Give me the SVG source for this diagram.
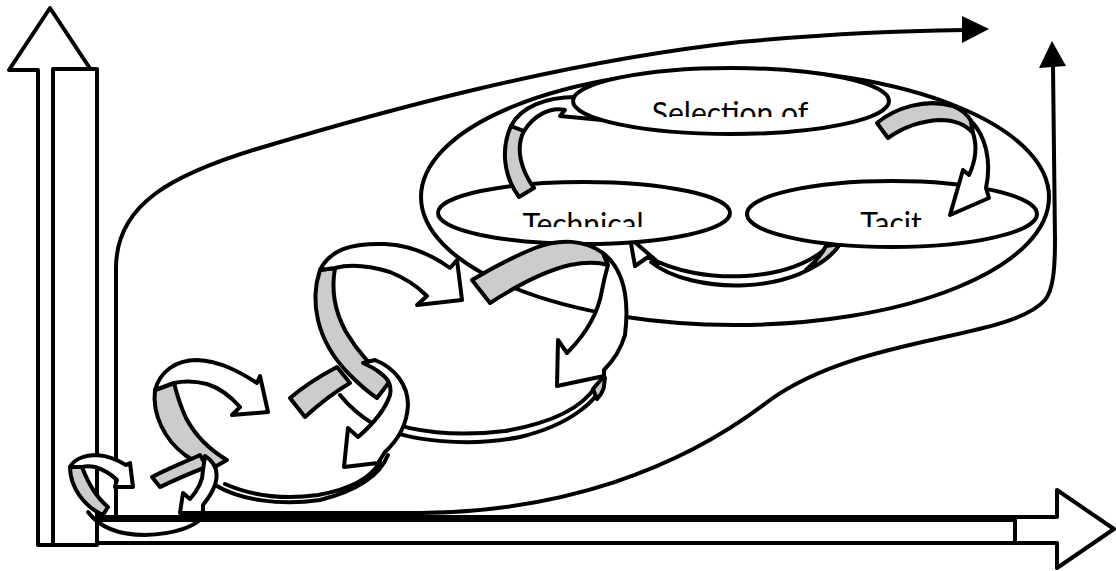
<svg xmlns="http://www.w3.org/2000/svg" width="1116" height="571" viewBox="0 0 1116 571">
  <style>
    .ln { fill: none; stroke: #000; stroke-width: 4; stroke-linejoin: round; stroke-linecap: round; }
    .wf { fill: #fff; stroke: #000; stroke-width: 4; stroke-linejoin: round; }
    .gf { fill: #cccccc; stroke: #000; stroke-width: 4; stroke-linejoin: round; }
    .bk { fill: #000; stroke: none; }
    .lbl { font-family: Lato, "Open Sans", "Liberation Sans", sans-serif; font-size: 30px; fill: #000; text-anchor: middle; }
  </style>
  <defs>
    <clipPath id="clipSel"><rect x="560" y="60" width="340" height="57"/></clipPath>
    <clipPath id="clipTech"><rect x="430" y="180" width="310" height="47"/></clipPath>
    <clipPath id="clipTacit"><rect x="740" y="180" width="310" height="47"/></clipPath>
  </defs>
  <rect width="1116" height="571" fill="#fff"/>

  <!-- axes -->
  <g id="axis-x">
    <path class="wf" d="M38,517 L1057,517 L1057,490 L1114,529 L1057,568 L1057,543 L38,543 Z"/>
    <rect class="wf" x="97" y="520" width="918" height="23"/>
  </g>
  <g id="axis-y">
    <path class="wf" d="M38,545 L38,70 L9,70 L50,8 L91,70 L62,70 L62,545 Z"/>
    <rect class="wf" x="53" y="69" width="44" height="476"/>
  </g>

  <!-- connectors: long sweeping trajectories -->
  <g id="connectors">
    <path class="ln" d="M116,515 L116,268 C116,205 170,175 260,148 C380,112 560,62 740,42 C840,33 900,31 965,30"/>
    <polygon class="bk" points="962,16 989,29 962,43"/>
    <path class="ln" d="M200,513 L420,513 C560,512 680,470 770,400 C860,335 1010,340 1045,300 C1053,290 1055,270 1055,240 L1053,66"/>
    <polygon class="bk" points="1039,68 1052,41 1066,66"/>
  </g>

  <!-- enclosing loop around the three stages -->
  <g id="cycle">
    <ellipse class="ln" cx="735" cy="197" rx="314" ry="128"/>
  </g>

  <!-- Tacit -> Technical return arrow (sits behind the two lower ellipses) -->
  <g id="arrow-tacit-technical">
    <path class="wf" d="M630,238 L659,263 L651,262 C690,294 800,298 840,244 L830,244 C795,283 700,286 648,257 L635,266 Z"/>
    <path class="gf" stroke-width="2" d="M826,246 C821,256 814,263 806,270 C822,264 832,256 840,244 Z"/>
  </g>

  <g id="node-technical">
    <ellipse class="wf" cx="584" cy="213" rx="146" ry="31"/>
    <text class="lbl" x="583" y="235" clip-path="url(#clipTech)">Technical</text>
  </g>
  <g id="node-tacit">
    <ellipse class="wf" cx="892" cy="214" rx="145" ry="33"/>
    <text class="lbl" x="891" y="234" clip-path="url(#clipTacit)">Tacit</text>
  </g>

  <!-- Technical -> Selection arrow (head tucked under the Selection ellipse) -->
  <g id="arrow-technical-selection">
    <path class="gf" d="M519,197 L534,188 C521,170 515,148 524,131 L511,126 C501,148 503,175 519,197 Z"/>
    <path class="wf" d="M511,126 C520,108 545,96 580,97 L602,94 L602,120 L560,116 L565,110 C550,107 534,115 524,131 Z"/>
  </g>

  <g id="node-selection">
    <ellipse class="wf" cx="731" cy="101" rx="158" ry="33"/>
    <text class="lbl" x="730" y="124" clip-path="url(#clipSel)">Selection of</text>
  </g>

  <!-- Selection -> Tacit arrow -->
  <g id="arrow-selection-tacit">
    <path class="gf" d="M877,123 C895,108 925,98 953,106 C962,110 968,115 971,121 L973,133 C965,124 955,120 940,120 C920,121 902,128 888,138 Z"/>
    <path class="wf" d="M971,121 C985,135 992,160 986,188 L989,198 L950,215 L963,170 L969,175 C976,160 977,145 973,133 Z"/>
  </g>

  <!-- large spiral turn -->
  <g id="spiral-large">
    <path class="ln" d="M605,378 C600,400 570,425 520,437 C470,447 410,442 375,425 C360,416 348,405 340,395"/>
    <path class="ln" d="M596,386 C582,408 552,423 505,431 C455,437 412,432 385,420"/>
    <path class="gf" stroke-width="2" d="M604,376 C606,386 603,393 597,399 L593,389 Z"/>
    <path class="gf" d="M320,270 C310,300 315,340 350,375 C360,385 368,392 377,398 L390,381 C372,368 358,352 346,332 C335,312 331,290 335,268 Z"/>
    <path class="wf" d="M320,270 C330,250 350,243 385,244 C410,245 432,255 450,268 L457,260 L462,300 L417,305 L427,296 C418,287 405,278 390,272 C370,266 350,264 335,268 Z"/>
    <path class="gf" d="M472,280 L490,303 C510,290 540,272 570,265 C585,262 598,262 608,265 L603,253 C585,240 560,238 535,248 C515,256 492,268 472,280 Z"/>
    <path class="wf" d="M603,253 C622,268 630,295 625,335 C620,352 612,362 604,370 L604,376 L557,386 L558,340 L567,353 C585,335 598,315 602,290 C604,280 606,272 608,265 Z"/>
  </g>

  <!-- medium spiral turn -->
  <g id="spiral-medium">
    <path class="ln" d="M388,455 C380,475 360,490 320,500 C280,506 240,500 215,485"/>
    <path class="ln" d="M380,462 C370,478 352,489 318,495 C282,500 250,495 225,484"/>
    <path class="gf" d="M155,390 C152,415 165,440 185,455 C195,462 203,466 211,469 L227,460 C210,450 195,435 186,418 C180,405 177,395 174,383 Z"/>
    <path class="wf" d="M155,390 C160,372 175,360 197,360 C220,361 240,372 257,383 L260,376 L268,412 L232,415 L240,407 C232,398 220,388 207,384 C195,381 183,381 174,383 Z"/>
    <path class="gf" d="M290,398 L305,417 C318,405 333,393 350,383 L337,367 C320,376 303,387 290,398 Z"/>
    <path class="wf" d="M375,360 C395,368 408,385 408,405 C407,425 398,440 385,452 L378,463 L344,467 L348,428 L358,437 C372,425 385,410 390,395 C392,385 390,375 363,363 Z"/>
  </g>

  <!-- small spiral turn at the origin -->
  <g id="spiral-small">
    <path class="ln" d="M88,512 C100,528 120,535 145,535 C175,534 195,527 205,515"/>
    <path class="gf" d="M70,467 C70,488 85,507 103,515 L108,507 C96,497 88,483 82,467 Z"/>
    <path class="wf" d="M70,467 C74,459 85,455 97,455 C108,456 118,460 126,465 L130,463 L133,487 L115,487 L117,480 C112,475 105,470 95,467 C90,466 86,466 82,467 Z"/>
    <path class="gf" d="M152,477 L160,487 C175,480 192,472 207,467 L200,455 C185,462 167,469 152,477 Z"/>
    <path class="wf" d="M205,456 C215,462 219,472 215,485 C212,493 207,500 203,505 L203,513 L180,513 L183,493 L190,499 C198,490 203,480 203,470 Z"/>
  </g>
</svg>
